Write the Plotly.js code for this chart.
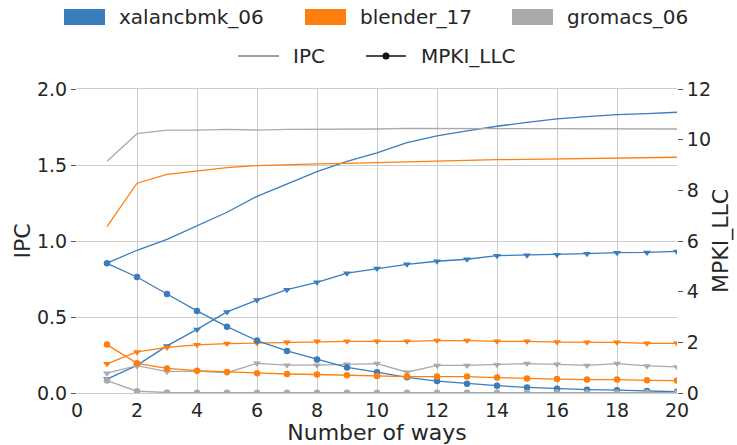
<!DOCTYPE html>
<html>
<head>
<meta charset="utf-8">
<script src="https://cdn.plot.ly/plotly-3.0.1.min.js"></script>
<style>html,body{margin:0;padding:0;background:#fff;}#chart{width:737px;height:445px;}</style>
</head>
<body>
<div id="chart"></div>
<script>
// ---- data ----
const ways = [1,2,3,4,5,6,7,8,9,10,11,12,13,14,15,16,17,18,19,20];
const benchmarks = ["xalancbmk_06", "blender_17", "gromacs_06"];

const ipc_xalancbmk = [0.855,0.939,1.011,1.099,1.189,1.294,1.375,1.456,1.524,1.58,1.647,1.691,1.724,1.755,1.781,1.803,1.818,1.831,1.838,1.847];
const ipc_blender   = [1.095,1.38,1.439,1.461,1.483,1.496,1.503,1.507,1.511,1.516,1.522,1.526,1.531,1.535,1.537,1.54,1.54,1.542,1.549,1.551];
const ipc_gromacs   = [1.524,1.706,1.73,1.73,1.735,1.73,1.735,1.735,1.737,1.737,1.741,1.739,1.739,1.739,1.739,1.739,1.739,1.739,1.739,1.737];

const mpki_xalancbmk = [5.12,4.58,3.91,3.24,2.62,2.07,1.66,1.32,1.01,0.82,0.62,0.47,0.37,0.29,0.22,0.17,0.13,0.11,0.08,0.05];
const mpki_blender   = [1.91,1.17,0.97,0.88,0.83,0.78,0.75,0.73,0.70,0.67,0.65,0.65,0.65,0.61,0.57,0.55,0.53,0.53,0.50,0.49];
const mpki_gromacs   = [0.49,0.07,0.02,0.01,0.01,0.01,0.01,0.01,0.01,0.01,0.01,0.01,0.01,0.01,0.01,0.01,0.01,0.01,0.01,0.01];

const tri_xalancbmk = [0.55,1.09,1.86,2.51,3.20,3.67,4.08,4.37,4.73,4.91,5.08,5.20,5.28,5.42,5.44,5.46,5.50,5.54,5.55,5.59];
const tri_blender   = [1.15,1.62,1.80,1.90,1.95,1.97,2.00,2.04,2.04,2.04,2.04,2.07,2.07,2.04,2.04,2.01,2.00,2.00,1.96,1.96];
const tri_gromacs   = [0.78,1.08,0.84,0.86,0.80,1.17,1.10,1.10,1.13,1.16,0.82,1.09,1.09,1.12,1.16,1.13,1.09,1.16,1.07,1.03];

const metricLabels = ["IPC", "MPKI_LLC"];
const xTitle = "Number of ways";

// ---- style ----
const colors = ["#3a7dbd", "#ff7f0e", "#aaaaaa"];
const FONT = "DejaVu Sans, sans-serif";
const FS = 19;      // tick labels
const FS_LEG = 20;  // legend
const FS_TTL = 22;  // axis titles
const TXT = "#262626";

const ipcSeries = [ipc_xalancbmk, ipc_blender, ipc_gromacs];
const mpkiSeries = [mpki_xalancbmk, mpki_blender, mpki_gromacs];
const triSeries = [tri_xalancbmk, tri_blender, tri_gromacs];

const traces = [];
for (let i = 0; i < 3; i++) {
  traces.push({x: ways, y: ipcSeries[i], type: "scatter", mode: "lines", yaxis: "y",
    line: {color: colors[i], width: 1.3}, showlegend: false, name: benchmarks[i] + " IPC"});
}
for (let i = 0; i < 3; i++) {
  traces.push({x: ways, y: triSeries[i], type: "scatter", mode: "lines+markers", yaxis: "y2",
    line: {color: colors[i], width: 1.3}, marker: {symbol: "triangle-down", size: 7, color: colors[i]},
    showlegend: false, name: benchmarks[i]});
}
for (let i = 0; i < 3; i++) {
  traces.push({x: ways, y: mpkiSeries[i], type: "scatter", mode: "lines+markers", yaxis: "y2",
    line: {color: colors[i], width: 1.3}, marker: {symbol: "circle", size: 6.5, color: colors[i]},
    showlegend: false, name: benchmarks[i] + " MPKI_LLC"});
}

// plot area in pixels
const W = 737, H = 445, L = 77, R = 60, T = 89, B = 52;
const pw = W - L - R, ph = H - T - B;
const px = X => (X - L) / pw;
const py = Y => (H - B - Y) / ph;

const shapes = [];
const annotations = [];
// legend row 1: colour patches
const patchX = [64, 305, 512];
for (let i = 0; i < 3; i++) {
  shapes.push({type: "rect", xref: "paper", yref: "paper", x0: px(patchX[i]), x1: px(patchX[i] + 41),
    y0: py(25), y1: py(9), fillcolor: colors[i], line: {width: 0}});
  annotations.push({xref: "paper", yref: "paper", x: px(patchX[i] + 53), y: py(17), xanchor: "left", yanchor: "middle",
    text: benchmarks[i], showarrow: false, font: {family: FONT, size: FS_LEG, color: TXT}});
}
// legend row 2: line styles
shapes.push({type: "line", xref: "paper", yref: "paper", x0: px(238), x1: px(279), y0: py(56), y1: py(56),
  line: {color: "#444444", width: 1}});
annotations.push({xref: "paper", yref: "paper", x: px(291), y: py(56), xanchor: "left", yanchor: "middle",
  text: metricLabels[0], showarrow: false, font: {family: FONT, size: FS_LEG, color: TXT}});
shapes.push({type: "line", xref: "paper", yref: "paper", x0: px(366), x1: px(406), y0: py(56), y1: py(56),
  line: {color: "#111111", width: 1.3}});
shapes.push({type: "circle", xref: "paper", yref: "paper", x0: px(382.5), x1: px(389.5), y0: py(59.5), y1: py(52.5),
  fillcolor: "#111111", line: {width: 0}});
annotations.push({xref: "paper", yref: "paper", x: px(419), y: py(56), xanchor: "left", yanchor: "middle",
  text: metricLabels[1], showarrow: false, font: {family: FONT, size: FS_LEG, color: TXT}});

const layout = {
  width: W, height: H,
  margin: {l: L, r: R, t: T, b: B, pad: 0},
  paper_bgcolor: "#ffffff", plot_bgcolor: "#ffffff",
  font: {family: FONT, size: FS, color: TXT},
  showlegend: false,
  xaxis: {range: [0, 20], tickvals: [0,2,4,6,8,10,12,14,16,18,20], ticks: "", showgrid: true, gridcolor: "#cccccc",
    gridwidth: 1, zeroline: false, showline: true, linecolor: "#cccccc", linewidth: 1, mirror: true,
    tickfont: {family: FONT, size: FS, color: TXT},
    title: {text: xTitle, font: {family: FONT, size: FS_TTL, color: TXT}, standoff: 0}},
  yaxis: {range: [0, 2], tickvals: [0, 0.5, 1, 1.5, 2], ticktext: ["0.0","0.5","1.0","1.5","2.0"],
    ticks: "outside", ticklen: 5, tickcolor: "#555555", showgrid: true, gridcolor: "#cccccc", zeroline: false,
    showline: false, tickfont: {family: FONT, size: FS, color: TXT},
    title: {text: metricLabels[0], font: {family: FONT, size: FS_TTL, color: TXT}, standoff: 0}},
  yaxis2: {range: [0, 12], tickvals: [0,2,4,6,8,10,12], overlaying: "y", side: "right", ticks: "outside", ticklen: 5,
    tickcolor: "#555555", showgrid: false, zeroline: false, showline: false,
    tickfont: {family: FONT, size: FS, color: TXT},
    title: {text: metricLabels[1], font: {family: FONT, size: FS_TTL, color: TXT}, standoff: 2}},
  shapes: shapes,
  annotations: annotations
};

Plotly.newPlot("chart", traces, layout, {displayModeBar: false, staticPlot: true});
</script>
</body>
</html>
